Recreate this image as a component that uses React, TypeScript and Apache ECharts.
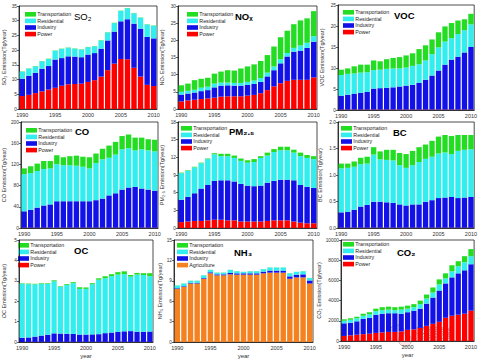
import React, { useEffect, useRef } from "react";
import * as echarts from "echarts";

const years = ["1990","1991","1992","1993","1994","1995","1996","1997","1998","1999","2000","2001","2002","2003","2004","2005","2006","2007","2008","2009","2010"];
const sectorsTop = ["Transportation", "Residential", "Industry", "Power"];
const sectorsNH3 = ["Transportation", "Residential", "Industry", "Agriculture"];

// SO2 (Tg/year)
const so2Power = [4.4, 4.8, 5.4, 6.0, 6.6, 7.2, 7.9, 8.4, 8.5, 8.6, 9.2, 9.8, 11.0, 13.2, 15.4, 17.0, 16.9, 14.0, 11.0, 8.2, 7.8];
const so2Industry = [5.9, 6.5, 6.9, 7.7, 8.0, 9.6, 9.4, 9.5, 9.3, 9.0, 9.3, 9.2, 9.5, 10.1, 10.9, 12.8, 13.6, 15.0, 16.3, 16.3, 16.2];
const so2Residential = [2.4, 2.4, 2.2, 2.5, 2.4, 3.0, 3.1, 2.9, 2.7, 2.6, 2.5, 2.3, 2.8, 2.7, 2.9, 3.5, 3.7, 3.5, 3.7, 4.2, 4.3];
const so2Transport = [0.1, 0.1, 0.1, 0.1, 0.1, 0.1, 0.1, 0.1, 0.1, 0.1, 0.1, 0.1, 0.1, 0.1, 0.1, 0.1, 0.1, 0.1, 0.1, 0.1, 0.1];

// NOx
const noxPower = [2.2, 2.5, 2.7, 2.9, 3.1, 3.3, 3.6, 3.7, 3.7, 3.7, 3.9, 4.1, 4.6, 5.5, 6.6, 7.5, 8.2, 8.5, 8.5, 8.5, 9.2];
const noxIndustry = [2.0, 2.0, 2.1, 2.3, 2.4, 3.0, 3.2, 3.2, 3.1, 3.1, 3.1, 3.2, 3.3, 4.0, 4.7, 5.8, 7.1, 8.2, 8.5, 9.3, 10.4];
const noxResidential = [0.8, 0.8, 0.8, 1.0, 1.0, 1.1, 0.9, 0.8, 0.8, 0.8, 0.9, 1.0, 1.1, 1.1, 1.1, 1.2, 1.0, 1.1, 1.5, 1.5, 1.6];
const noxTransport = [1.9, 2.1, 2.8, 2.6, 2.6, 2.9, 3.2, 3.6, 3.6, 4.2, 4.5, 4.7, 5.0, 5.1, 5.8, 6.4, 6.5, 6.9, 7.3, 7.1, 7.3];

// VOC
const vocPower = [0.1, 0.1, 0.1, 0.1, 0.1, 0.1, 0.1, 0.1, 0.1, 0.1, 0.1, 0.1, 0.1, 0.1, 0.1, 0.1, 0.1, 0.1, 0.1, 0.1, 0.1];
const vocIndustry = [3.3, 3.5, 3.8, 4.0, 4.2, 5.0, 5.1, 5.2, 5.3, 5.5, 5.7, 5.9, 6.4, 7.1, 8.1, 9.3, 10.7, 11.9, 12.6, 13.6, 14.9];
const vocResidential = [4.9, 5.0, 4.8, 4.8, 4.7, 4.4, 4.4, 4.5, 4.5, 4.3, 4.3, 4.5, 4.4, 4.6, 5.1, 5.5, 5.5, 5.1, 5.4, 5.3, 5.4];
const vocTransport = [1.3, 1.3, 1.7, 1.9, 1.8, 2.3, 2.0, 2.3, 2.5, 2.7, 2.9, 3.0, 3.6, 3.6, 3.5, 3.6, 3.6, 3.6, 3.2, 2.6, 2.5];

// CO
const coPower = [0.5, 0.5, 0.5, 0.5, 0.5, 0.5, 0.5, 0.5, 0.5, 0.5, 0.5, 0.5, 0.5, 0.5, 0.5, 0.5, 0.5, 0.5, 0.5, 0.5, 0.5];
const coIndustry = [31, 34, 38, 42, 44, 50, 50, 50, 50, 50, 50, 52, 55, 61, 65, 72, 76, 77, 74, 72, 70];
const coResidential = [70, 69, 69, 69, 68, 70, 68, 68, 67, 65, 62, 70, 74, 71, 73, 76, 74, 69, 74, 74, 74];
const coTransport = [11, 13, 14, 15, 14, 17, 15, 17, 19, 19, 21, 18, 20, 23, 24, 25, 26, 24, 22, 21, 22];

// PM2.5
const pmPower = [1.0, 1.1, 1.2, 1.2, 1.3, 1.4, 1.4, 1.3, 1.3, 1.1, 1.1, 1.1, 1.1, 1.2, 1.3, 1.3, 1.3, 1.1, 0.9, 0.8, 0.8];
const pmIndustry = [3.8, 4.2, 4.7, 5.5, 6.0, 6.6, 6.7, 6.8, 6.6, 6.4, 6.1, 6.0, 6.1, 6.5, 6.7, 6.9, 6.9, 7.0, 6.4, 6.2, 6.0];
const pmResidential = [4.5, 4.4, 4.4, 4.3, 4.4, 4.5, 4.1, 4.1, 4.0, 3.9, 3.9, 4.1, 4.7, 4.6, 4.9, 5.0, 5.0, 4.7, 4.9, 4.9, 4.9];
const pmTransport = [0.1, 0.1, 0.1, 0.1, 0.1, 0.2, 0.4, 0.4, 0.4, 0.4, 0.4, 0.5, 0.3, 0.5, 0.5, 0.6, 0.6, 0.5, 0.6, 0.5, 0.5];

// BC
const bcPower = [0.005, 0.005, 0.005, 0.005, 0.005, 0.005, 0.005, 0.005, 0.005, 0.005, 0.005, 0.005, 0.005, 0.005, 0.005, 0.005, 0.005, 0.005, 0.005, 0.005, 0.005];
const bcIndustry = [0.29, 0.30, 0.34, 0.40, 0.43, 0.49, 0.49, 0.48, 0.47, 0.44, 0.42, 0.44, 0.44, 0.49, 0.52, 0.56, 0.57, 0.58, 0.56, 0.57, 0.58];
const bcResidential = [0.83, 0.83, 0.81, 0.80, 0.78, 0.89, 0.80, 0.80, 0.80, 0.74, 0.71, 0.74, 0.80, 0.81, 0.82, 0.84, 0.85, 0.81, 0.89, 0.90, 0.90];
const bcTransport = [0.09, 0.08, 0.10, 0.12, 0.13, 0.14, 0.15, 0.19, 0.20, 0.23, 0.26, 0.27, 0.28, 0.27, 0.30, 0.32, 0.33, 0.34, 0.30, 0.28, 0.27];

// OC
const ocPower = [0.004, 0.004, 0.004, 0.004, 0.004, 0.004, 0.004, 0.004, 0.004, 0.004, 0.004, 0.004, 0.004, 0.004, 0.004, 0.004, 0.004, 0.004, 0.004, 0.004, 0.004];
const ocIndustry = [0.21, 0.22, 0.26, 0.31, 0.35, 0.42, 0.41, 0.40, 0.39, 0.36, 0.36, 0.37, 0.38, 0.43, 0.46, 0.49, 0.52, 0.53, 0.50, 0.50, 0.51];
const ocResidential = [2.64, 2.61, 2.56, 2.54, 2.50, 2.55, 2.29, 2.40, 2.49, 2.24, 2.24, 2.46, 2.67, 2.69, 2.76, 2.81, 2.80, 2.67, 2.80, 2.78, 2.71];
const ocTransport = [0.02, 0.03, 0.03, 0.03, 0.03, 0.05, 0.03, 0.04, 0.05, 0.08, 0.07, 0.05, 0.07, 0.10, 0.10, 0.12, 0.14, 0.08, 0.08, 0.09, 0.15];

// NH3
const nh3Agriculture = [7.8, 8.1, 8.6, 8.6, 9.3, 10.1, 9.8, 9.8, 9.95, 9.9, 9.9, 9.9, 9.9, 10.1, 10.2, 10.2, 10.2, 9.3, 9.5, 9.5, 8.6];
const nh3Industry = [0.1, 0.1, 0.1, 0.1, 0.1, 0.15, 0.15, 0.15, 0.2, 0.2, 0.2, 0.2, 0.2, 0.25, 0.3, 0.3, 0.3, 0.35, 0.4, 0.45, 0.45];
const nh3Residential = [0.4, 0.4, 0.3, 0.3, 0.4, 0.35, 0.25, 0.25, 0.45, 0.3, 0.2, 0.3, 0.3, 0.35, 0.45, 0.45, 0.45, 0.45, 0.4, 0.45, 0.35];
const nh3Transport = [0.02, 0.02, 0.02, 0.02, 0.02, 0.02, 0.02, 0.02, 0.02, 0.02, 0.02, 0.02, 0.02, 0.02, 0.02, 0.02, 0.02, 0.02, 0.02, 0.02, 0.02];

// CO2
const co2Power = [500, 560, 620, 680, 720, 800, 850, 900, 900, 950, 1100, 1150, 1300, 1500, 1700, 1900, 2300, 2500, 2600, 2700, 3000];
const co2Industry = [1250, 1240, 1330, 1520, 1580, 1800, 1850, 1850, 1850, 1750, 1750, 1850, 1900, 2200, 2600, 3100, 3400, 3800, 4100, 4300, 4600];
const co2Residential = [250, 300, 300, 300, 350, 350, 350, 350, 300, 400, 350, 350, 450, 500, 500, 600, 500, 600, 700, 800, 800];
const co2Transport = [150, 150, 150, 200, 200, 250, 300, 300, 300, 300, 300, 300, 350, 400, 500, 500, 500, 600, 500, 600, 700];

const colors: Record<string, string> = {
  Power: "#FF0000",
  Agriculture: "#F58220",
  Industry: "#1212E8",
  Residential: "#33EEEE",
  Transportation: "#22DD22",
};

const FONT = "'Liberation Sans', Arial, sans-serif";

type Panel = {
  title: string;
  bold: boolean;
  yName: string;
  max: number;
  interval: number;
  decimals: number;
  legend: string[];
  stacks: [string, number[]][];
  box: [number, number, number, number];
  nameGap: number;
  legendXY: [number, number];
  titleXY: [number, number];
  bottom: boolean;
};

const panels: Panel[] = [
  { title: "SO₂", bold: false, yName: "SO₂ Emission(Tg/year)", max: 35, interval: 5, decimals: 0, legend: sectorsTop,
    stacks: [["Power", so2Power], ["Industry", so2Industry], ["Residential", so2Residential], ["Transportation", so2Transport]],
    box: [17, 6, 140, 103], nameGap: 12, legendXY: [25, 12], titleXY: [74, 17], bottom: false },
  { title: "NOₓ", bold: true, yName: "NOₓ Emission(Tg/year)", max: 30, interval: 5, decimals: 0, legend: sectorsTop,
    stacks: [["Power", noxPower], ["Industry", noxIndustry], ["Residential", noxResidential], ["Transportation", noxTransport]],
    box: [178, 6, 139, 103], nameGap: 13, legendXY: [187, 12], titleXY: [235, 17], bottom: false },
  { title: "VOC", bold: true, yName: "VOC Emission(Tg/year)", max: 25, interval: 5, decimals: 0, legend: sectorsTop,
    stacks: [["Power", vocPower], ["Industry", vocIndustry], ["Residential", vocResidential], ["Transportation", vocTransport]],
    box: [338, 5, 139, 105], nameGap: 13, legendXY: [343, 10], titleXY: [394, 16], bottom: false },
  { title: "CO", bold: true, yName: "CO Emission(Tg/year)", max: 200, interval: 40, decimals: 0, legend: sectorsTop,
    stacks: [["Power", coPower], ["Industry", coIndustry], ["Residential", coResidential], ["Transportation", coTransport]],
    box: [18, 122, 140, 106], nameGap: 12, legendXY: [26, 128], titleXY: [75, 132], bottom: false },
  { title: "PM₂.₅", bold: true, yName: "PM₂.₅ Emission(Tg/year)", max: 18, interval: 3, decimals: 0, legend: sectorsTop,
    stacks: [["Power", pmPower], ["Industry", pmIndustry], ["Residential", pmResidential], ["Transportation", pmTransport]],
    box: [178, 122, 139, 106], nameGap: 13, legendXY: [181, 126], titleXY: [229, 132], bottom: false },
  { title: "BC", bold: true, yName: "BC Emission(Tg/year)", max: 2, interval: 0.5, decimals: 1, legend: sectorsTop,
    stacks: [["Power", bcPower], ["Industry", bcIndustry], ["Residential", bcResidential], ["Transportation", bcTransport]],
    box: [338, 122, 139, 106], nameGap: 15, legendXY: [341, 126], titleXY: [393, 133], bottom: false },
  { title: "OC", bold: true, yName: "OC Emission(Tg/year)", max: 5, interval: 1, decimals: 0, legend: sectorsTop,
    stacks: [["Power", ocPower], ["Industry", ocIndustry], ["Residential", ocResidential], ["Transportation", ocTransport]],
    box: [17, 240, 136, 105], nameGap: 12, legendXY: [18, 243], titleXY: [74, 251], bottom: true },
  { title: "NH₃", bold: true, yName: "NH₃ Emission(Tg/year)", max: 15, interval: 3, decimals: 0, legend: sectorsNH3,
    stacks: [["Agriculture", nh3Agriculture], ["Industry", nh3Industry], ["Residential", nh3Residential], ["Transportation", nh3Transport]],
    box: [174, 240, 139, 105], nameGap: 10, legendXY: [177, 243], titleXY: [234, 253], bottom: true },
  { title: "CO₂", bold: true, yName: "CO₂ Emission(Tg/year)", max: 10000, interval: 2000, decimals: 0, legend: sectorsTop,
    stacks: [["Power", co2Power], ["Industry", co2Industry], ["Residential", co2Residential], ["Transportation", co2Transport]],
    box: [341, 240, 136, 101], nameGap: 15, legendXY: [343, 242], titleXY: [397, 253], bottom: true },
];

function buildOption() {
  const grid: any[] = [];
  const xAxis: any[] = [];
  const yAxis: any[] = [];
  const series: any[] = [];
  const graphic: any[] = [];

  panels.forEach((p, i) => {
    const [l, t, w, h] = p.box;
    grid.push({ left: l, top: t, width: w, height: h, show: true, borderColor: "#000", borderWidth: 0.7, backgroundColor: "transparent" });
    xAxis.push({
      type: "category", gridIndex: i, data: years,
      axisLine: { lineStyle: { color: "#000", width: 0.7 } },
      axisTick: { show: false },
      axisLabel: { interval: 4, fontSize: 5.5, color: "#333", margin: 3, fontFamily: FONT },
      name: p.bottom ? "year" : "", nameLocation: "middle", nameGap: 11,
      nameTextStyle: { fontSize: 6, color: "#333", fontFamily: FONT },
    });
    yAxis.push({
      type: "value", gridIndex: i, min: 0, max: p.max, interval: p.interval,
      axisLine: { show: true, lineStyle: { color: "#000", width: 0.7 } },
      axisTick: { show: true, length: 2, lineStyle: { color: "#000", width: 0.6 } },
      splitLine: { show: false },
      axisLabel: { fontSize: 4.8, color: "#333", margin: 2, fontFamily: FONT,
        formatter: (v: number) => v.toFixed(p.decimals) },
      name: p.yName, nameLocation: "middle", nameGap: p.nameGap, nameRotate: 90,
      nameTextStyle: { fontSize: 5.5, color: "#333", fontFamily: FONT },
    });
    p.stacks.forEach(([name, data]) => {
      series.push({
        type: "bar", name, xAxisIndex: i, yAxisIndex: i, stack: "s" + i, data,
        barCategoryGap: "18%", itemStyle: { color: colors[name] },
      });
    });
    const [lx, ly] = p.legendXY;
    p.legend.forEach((name, k) => {
      graphic.push({ type: "rect", left: lx, top: ly + k * 6.6, shape: { width: 11, height: 4.6 }, style: { fill: colors[name] } });
      graphic.push({ type: "text", left: lx + 12.3, top: ly + k * 6.6 - 0.5, style: { text: name, fontSize: 5.3, fill: "#222", fontFamily: FONT } });
    });
    graphic.push({ type: "text", left: p.titleXY[0], top: p.titleXY[1] - 6, style: { text: p.title, fontSize: 9.5, fontWeight: p.bold ? "bold" : "normal", fill: "#000", fontFamily: FONT } });
  });

  // watermark
  graphic.push({ type: "circle", shape: { cx: 397, cy: 333, r: 8 }, style: { fill: "rgba(235,240,255,0.85)", stroke: "#999", lineWidth: 0.6 } });
  graphic.push({ type: "circle", shape: { cx: 405, cy: 340, r: 6.5 }, style: { fill: "rgba(255,225,225,0.85)", stroke: "#999", lineWidth: 0.6 } });
  graphic.push({ type: "text", left: 416, top: 326, style: { text: "数据派", fontSize: 12, fill: "#fff", stroke: "#8a6a6a", lineWidth: 1, fontFamily: "'Noto Sans CJK SC', sans-serif" } });

  return { animation: false, backgroundColor: "#fff", grid, xAxis, yAxis, series, graphic };
}

export default function App() {
  const ref = useRef<HTMLDivElement>(null);
  useEffect(() => {
    if (!ref.current) return;
    const chart = echarts.init(ref.current, undefined, { renderer: "svg" });
    chart.setOption(buildOption() as any);
    return () => chart.dispose();
  }, []);
  return <div ref={ref} style={{ position: "fixed", left: 0, top: 0, width: 480, height: 360 }} />;
}
